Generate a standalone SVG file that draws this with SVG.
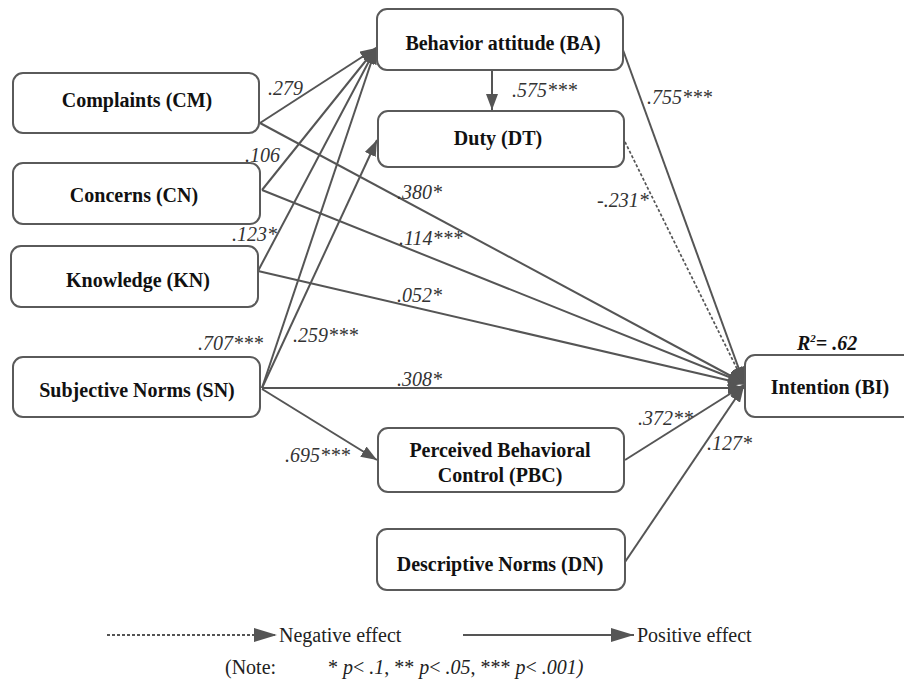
<svg xmlns="http://www.w3.org/2000/svg" width="904" height="689" viewBox="0 0 904 689">
<defs>
<marker id="ah" markerUnits="userSpaceOnUse" markerWidth="17" markerHeight="12" refX="16" refY="6" orient="auto">
<path d="M0,0 L16,6 L0,12 Z" fill="#555"/>
</marker>
<marker id="lh" markerUnits="userSpaceOnUse" markerWidth="24" markerHeight="14" refX="23" refY="7" orient="auto">
<path d="M0,0 L23,7 L0,14 Z" fill="#555"/>
</marker>
<style>
.box{fill:#fff;stroke:#5a5a5a;stroke-width:2}
.lbl{font-family:"Liberation Serif","Times New Roman",serif;font-size:20px;font-weight:bold;fill:#111;text-anchor:middle}
.coef{font-family:"Liberation Serif","Times New Roman",serif;font-size:20px;font-style:italic;fill:#333}
.edge{fill:none;stroke:#555;stroke-width:2;marker-end:url(#ah)}
.dash{stroke-dasharray:3,2;stroke-width:1.7}
.legl{fill:none;stroke:#555;stroke-width:2;marker-end:url(#lh)}
.leg{font-family:"Liberation Serif","Times New Roman",serif;font-size:20px;fill:#222}
</style>
</defs>
<rect width="904" height="689" fill="#fff"/>

<g id="connectors">
<line class="edge" x1="260" y1="123" x2="376" y2="48"/>
<line class="edge" x1="262" y1="190" x2="376" y2="48"/>
<line class="edge" x1="258" y1="271" x2="376" y2="48"/>
<line class="edge" x1="262" y1="388" x2="376" y2="48"/>
<line class="edge" x1="262" y1="388" x2="377" y2="140"/>
<line class="edge" x1="262" y1="389" x2="377" y2="460"/>
<line class="edge" x1="492" y1="70" x2="492" y2="110"/>
<line class="edge" x1="260" y1="123" x2="744" y2="383"/>
<line class="edge" x1="262" y1="190" x2="744" y2="383"/>
<line class="edge" x1="258" y1="271" x2="744" y2="384"/>
<line class="edge" x1="262" y1="388" x2="744" y2="388"/>
<line class="edge" x1="623" y1="50" x2="744" y2="383"/>
<line class="edge dash" x1="625" y1="142" x2="744" y2="383"/>
<line class="edge" x1="625" y1="460" x2="744" y2="385"/>
<line class="edge" x1="625" y1="562" x2="744" y2="386"/>
</g>

<g id="BA"><rect class="box" x="377" y="9" width="246" height="61" rx="10"/><text class="lbl" x="503" y="50">Behavior attitude (BA)</text></g>
<g id="DT"><rect class="box" x="378" y="111" width="246" height="56" rx="10"/><text class="lbl" x="498" y="145">Duty (DT)</text></g>
<g id="CM"><rect class="box" x="13" y="73" width="246" height="60" rx="10"/><text class="lbl" x="137" y="107">Complaints (CM)</text></g>
<g id="CN"><rect class="box" x="13" y="163" width="247" height="61" rx="10"/><text class="lbl" x="134" y="202">Concerns (CN)</text></g>
<g id="KN"><rect class="box" x="11" y="246" width="247" height="61" rx="10"/><text class="lbl" x="138" y="287">Knowledge (KN)</text></g>
<g id="SN"><rect class="box" x="13" y="357" width="247" height="60" rx="10"/><text class="lbl" x="137" y="397">Subjective Norms (SN)</text></g>
<g id="BI"><rect class="box" x="745" y="355" width="170" height="62" rx="10"/><text class="lbl" x="830" y="394">Intention (BI)</text>
<text x="797" y="350" style="font-family:'Liberation Serif','Times New Roman',serif;font-size:20px;font-weight:bold;font-style:italic;fill:#111">R<tspan dy="-8" font-size="11">2</tspan><tspan dy="8">= .62</tspan></text></g>
<g id="PBC"><rect class="box" x="378" y="428" width="246" height="64" rx="10"/><text class="lbl" x="500" y="457">Perceived Behavioral</text><text class="lbl" x="500" y="482">Control (PBC)</text></g>
<g id="DN"><rect class="box" x="377" y="529" width="248" height="61" rx="10"/><text class="lbl" x="500" y="571">Descriptive Norms (DN)</text></g>

<g id="coefficients">
<text class="coef" x="268" y="95">.279</text>
<text class="coef" x="245" y="162">.106</text>
<text class="coef" x="232" y="241">.123*</text>
<text class="coef" x="198" y="350">.707***</text>
<text class="coef" x="293" y="342">.259***</text>
<text class="coef" x="285" y="462">.695***</text>
<text class="coef" x="397" y="199">.380*</text>
<text class="coef" x="399" y="245">.114***</text>
<text class="coef" x="397" y="302">.052*</text>
<text class="coef" x="397" y="386">.308*</text>
<text class="coef" x="512" y="97">.575***</text>
<text class="coef" x="647" y="104">.755***</text>
<text class="coef" x="597" y="207">-.231*</text>
<text class="coef" x="638" y="425">.372**</text>
<text class="coef" x="707" y="450">.127*</text>
</g>

<g id="legend">
<line class="legl dash" x1="107" y1="635" x2="277" y2="635"/>
<text class="leg" x="279" y="642">Negative effect</text>
<line class="legl" x1="463" y1="635" x2="634" y2="635"/>
<text class="leg" x="637" y="642">Positive effect</text>
<text class="leg" x="225" y="674">(Note:</text>
<text class="leg" x="328" y="674">* <tspan font-style="italic">p</tspan>&lt; <tspan font-style="italic">.1</tspan>, ** <tspan font-style="italic">p</tspan>&lt; <tspan font-style="italic">.05</tspan>, *** <tspan font-style="italic">p</tspan>&lt; <tspan font-style="italic">.001)</tspan></text>
</g>
</svg>
